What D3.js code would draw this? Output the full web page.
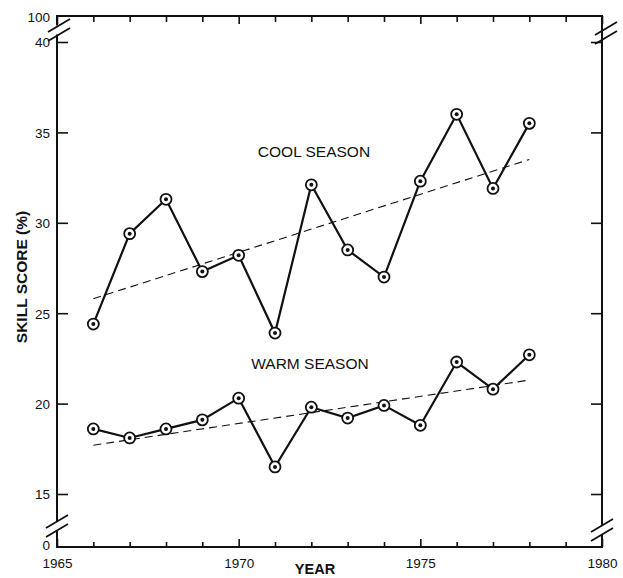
<!DOCTYPE html>
<html>
<head>
<meta charset="utf-8">
<script src="https://cdn.jsdelivr.net/npm/d3@7"></script>
<style>
    body { margin: 0; background: #fff; }
    text { font-family: "Liberation Sans", Arial, sans-serif; fill: #111; }
</style>
</head>
<body>
<div id="chart"></div>
<script>

// data
const years = [1966, 1967, 1968, 1969, 1970, 1971, 1972, 1973, 1974, 1975, 1976, 1977, 1978];
const coolScores = [24.4, 29.4, 31.3, 27.3, 28.2, 23.9, 32.1, 28.5, 27.0, 32.3, 36.0, 31.9, 35.5];
const warmScores = [18.6, 18.1, 18.6, 19.1, 20.3, 16.5, 19.8, 19.2, 19.9, 18.8, 22.3, 20.8, 22.7];
const coolTrend = [[1966, 25.8], [1978, 33.5]];
const warmTrend = [[1966, 17.7], [1978, 21.3]];

const yTicks = [15, 20, 25, 30, 35, 40];
const yBreakLabels = ["0", "100"];   // bottom / top ends of the broken axis
const xLabels = [1965, 1970, 1975, 1980];
const xMinor = d3.range(1965, 1981);

class SkillChart {

    constructor(parentElement) {
        this.parentElement = parentElement;
        this.initVis();
    }

    initVis() {
        let vis = this;

        vis.width = 623;
        vis.height = 578;

        // frame of the plot
        vis.frame = {left: 57, right: 602, top: 16, bottom: 547};

        vis.svg = d3.select("#" + vis.parentElement).append("svg")
            .attr("width", vis.width)
            .attr("height", vis.height);

        vis.x = d3.scaleLinear()
            .domain([1965, 1980])
            .range([vis.frame.left, vis.frame.right]);

        vis.y = d3.scaleLinear()
            .domain([15, 40])
            .range([494, 42]);

        vis.drawAxes();
        vis.drawBreaks();
        vis.drawSeries(coolScores, coolTrend);
        vis.drawSeries(warmScores, warmTrend);
        vis.drawLabels();
    }

    drawAxes() {
        let vis = this;
        let f = vis.frame;

        vis.svg.append("rect")
            .attr("x", f.left).attr("y", f.top)
            .attr("width", f.right - f.left)
            .attr("height", f.bottom - f.top)
            .attr("fill", "none")
            .attr("stroke", "#111")
            .attr("stroke-width", 2);

        // y ticks, pointing inward on both sides
        let left = vis.svg.append("g")
            .attr("transform", `translate(${f.left},0)`)
            .call(d3.axisLeft(vis.y).tickValues(yTicks).tickSizeInner(-11).tickSizeOuter(0).tickPadding(18));
        let right = vis.svg.append("g")
            .attr("transform", `translate(${f.right},0)`)
            .call(d3.axisRight(vis.y).tickValues(yTicks).tickSizeInner(-11).tickSizeOuter(0).tickFormat(""));

        // x ticks, every year, longer at the labelled years
        let bottom = vis.svg.append("g")
            .attr("transform", `translate(0,${f.bottom})`)
            .call(d3.axisBottom(vis.x).tickValues(xMinor).tickSizeOuter(0).tickFormat("")
                .tickSizeInner(-5));
        let top = vis.svg.append("g")
            .attr("transform", `translate(0,${f.top})`)
            .call(d3.axisTop(vis.x).tickValues(xMinor).tickSizeOuter(0).tickFormat("")
                .tickSizeInner(-6));

        [bottom, top].forEach(g => {
            g.selectAll(".tick line")
                .filter(d => xLabels.includes(d))
                .attr("y2", g === bottom ? -8 : 8);
        });

        [left, right, bottom, top].forEach(g => {
            g.select(".domain").remove();
            g.selectAll(".tick line").attr("stroke", "#111").attr("stroke-width", 1.6);
            g.selectAll("text")
                .style("font-family", "'Liberation Sans', Arial, sans-serif")
                .style("font-size", "13.5px")
                .attr("fill", "#111");
        });
        left.selectAll(".tick text").attr("x", -7).attr("dy", "0.36em");

        vis.svg.append("g")
            .attr("transform", `translate(0,${f.bottom})`)
            .call(d3.axisBottom(vis.x).tickValues(xLabels).tickSize(0).tickPadding(11).tickFormat(d3.format("d")))
            .call(g => g.select(".domain").remove())
            .selectAll("text")
            .style("font-family", "'Liberation Sans', Arial, sans-serif")
            .style("font-size", "13.5px")
            .attr("fill", "#111");

        // labels at the broken ends
        vis.svg.selectAll(".break-label")
            .data(yBreakLabels)
            .enter().append("text")
            .attr("class", "break-label")
            .attr("x", f.left - 7)
            .attr("y", (d, i) => i === 0 ? f.bottom - 2 : f.top + 1)
            .attr("dy", "0.36em")
            .attr("text-anchor", "end")
            .style("font-size", "13.5px")
            .text(d => d);
    }

    drawBreaks() {
        let vis = this;
        let f = vis.frame;

        // centre of each break: [axis x, y]
        let breaks = [
            [f.left, 526], [f.left + 2, 30],
            [f.right, 530], [f.right + 4, 33]
        ];

        breaks.forEach(b => {
            let g = vis.svg.append("g").attr("transform", `translate(${b[0]},${b[1]})`);
            g.append("rect")
                .attr("x", -3).attr("y", -4.5)
                .attr("width", 6).attr("height", 9)
                .attr("fill", "#fff");
            [-4.5, 4.5].forEach(off => {
                g.append("line")
                    .attr("x1", -11).attr("y1", off + 6.5)
                    .attr("x2", 11).attr("y2", off - 6.5)
                    .attr("stroke", "#111")
                    .attr("stroke-width", 1.8);
            });
        });
    }

    drawSeries(scores, trend) {
        let vis = this;

        let pts = years.map((yr, i) => [yr, scores[i]]);

        let line = d3.line()
            .x(d => vis.x(d[0]))
            .y(d => vis.y(d[1]));

        vis.svg.append("path")
            .datum(trend)
            .attr("d", line)
            .attr("fill", "none")
            .attr("stroke", "#111")
            .attr("stroke-width", 1.1)
            .attr("stroke-dasharray", "8,5");

        vis.svg.append("path")
            .datum(pts)
            .attr("d", line)
            .attr("fill", "none")
            .attr("stroke", "#111")
            .attr("stroke-width", 2.2);

        let marks = vis.svg.append("g")
            .selectAll(".mark")
            .data(pts)
            .enter().append("g")
            .attr("class", "mark")
            .attr("transform", d => `translate(${vis.x(d[0])},${vis.y(d[1])})`);

        marks.append("circle")
            .attr("r", 5.5)
            .attr("fill", "#fff")
            .attr("stroke", "#111")
            .attr("stroke-width", 1.8);

        marks.append("circle")
            .attr("r", 2)
            .attr("fill", "#111");
    }

    drawLabels() {
        let vis = this;

        vis.svg.append("text")
            .attr("x", 314).attr("y", 157)
            .attr("text-anchor", "middle")
            .style("font-size", "15.5px")
            .text("COOL SEASON");

        vis.svg.append("text")
            .attr("x", 310).attr("y", 369)
            .attr("text-anchor", "middle")
            .style("font-size", "15.5px")
            .text("WARM SEASON");

        vis.svg.append("text")
            .attr("x", 315).attr("y", 574)
            .attr("text-anchor", "middle")
            .style("font-size", "14.5px")
            .style("font-weight", "bold")
            .text("YEAR");

        vis.svg.append("text")
            .attr("transform", "translate(27,277) rotate(-90)")
            .attr("text-anchor", "middle")
            .style("font-size", "15.5px")
            .style("font-weight", "bold")
            .text("SKILL SCORE (%)");
    }
}

new SkillChart("chart");

</script>
</body>
</html>
